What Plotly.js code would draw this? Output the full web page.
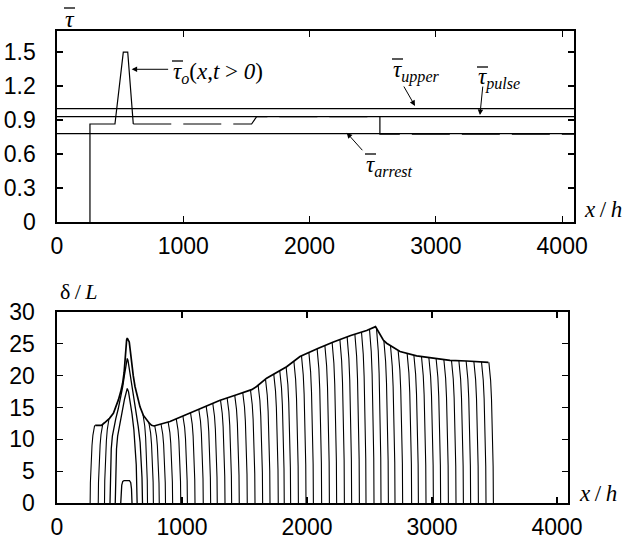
<!DOCTYPE html>
<html>
<head>
<meta charset="utf-8">
<script src="https://cdn.plot.ly/plotly-3.0.1.min.js"></script>
<style>html,body{margin:0;padding:0;background:#fff;}#chart{width:623px;height:543px;}</style>
</head>
<body>
<div id="chart"></div>
<script>
// ---------- top panel: shear stress ----------
const xTicks = [0, 1000, 2000, 3000, 4000];
const tauTicks = [0, 0.3, 0.6, 0.9, 1.2, 1.5];
const deltaTicks = [0, 5, 10, 15, 20, 25, 30];

const tauUpperX = [0, 4094];
const tauUpperY = [1.0, 1.0];
const tauPulseX = [0, 4094];
const tauPulseY = [0.93, 0.93];
const tauArrestX = [0, 4094];
const tauArrestY = [0.78, 0.78];

// tau_o(x, t>0): solid part (nucleation pulse) and dashed part
const tauOX = [261, 261, 459, 525, 560, 604];
const tauOY = [0, 0.865, 0.865, 1.5, 1.5, 0.865];
const tauODashX = [604, 1541, 1581, 2557, 2557, 4094];
const tauODashY = [0.865, 0.865, 0.93, 0.93, 0.775, 0.775];

// ---------- bottom panel: slip profiles ----------
// envelope (final slip profile)
const envX = [305,355,380,420,451,475,491,510,525,537,544,551,557,562,568,578,587,597,610,624,640,664,690,717,740,757,776,904,1000,1150,1300,1437,1557,1597,1677,1837,1944,2091,2211,2350,2477,2548,2560,2584,2610,2637,2690,2744,2877,3011,3144,3277,3451];
const envY = [12.2,12.2,12.6,13.3,14.1,15.2,16.2,17.5,18.8,20.5,22.5,24.3,25.6,25.9,25.7,25.3,23.8,21.9,20.0,18.3,16.8,15.1,13.8,13.0,12.5,12.2,12.1,12.8,13.6,14.9,16.1,17.0,17.8,18.3,19.6,21.4,23.0,24.3,25.3,26.3,27.1,27.7,27.3,26.4,25.6,25.1,24.4,23.8,23.1,22.7,22.4,22.3,22.1];

// early profiles around the pulse
const p1X = [510,513,518,526,536,580,590,596,600];
const p1Y = [0,1.8,2.8,3.4,3.5,3.5,3.2,2.2,0];
const p2X = [466,470,476,485,500,520,540,552,562,572,585,600,615,626,634,641];
const p2Y = [0,5,8.5,10.5,12.3,14.2,16.3,17.5,18.0,17.5,16.0,14.0,11.5,9,6,0];
const p3X = [424,428,434,443,455,470,490,510,525,538,548,556,562,568,576,586,600,615,632,650,665,675,680,684];
const p3Y = [0,5,8.5,10.5,12,13.2,14.8,16.6,18.2,19.9,21.4,22.4,22.7,22.4,21.4,19.9,17.8,15.8,14,12,9.5,6.5,4,0];

// crack-tip positions of successive profiles
const leftTips = [265, 330, 380];
const rightTips = [724,771,818,868,925,990,1043,1104,1170,1229,1282,1344,1397,1458,1522,1584,1645,1704,1770,1818,1869,1931,1992,2051,2117,2179,2237,2299,2357,2419,2472,2536,2592,2651,2704,2765,2837,2891,2952,3011,3069,3131,3192,3251,3309,3371,3432,3491];
// shape of a profile near its tip (distance from tip, fraction of opening)
const tipDx = [36, 29, 22, 15, 9, 5, 2, 0];
const tipFrac = [1, 0.95, 0.87, 0.74, 0.58, 0.42, 0.26, 0];

function envAt(x) {
  if (x <= envX[0]) return envY[0];
  for (let i = 1; i < envX.length; i++) {
    if (x <= envX[i]) {
      const t = (x - envX[i-1]) / (envX[i] - envX[i-1]);
      return envY[i-1] + t * (envY[i] - envY[i-1]);
    }
  }
  return envY[envY.length - 1];
}
const tipsX = [], tipsY = [];
rightTips.forEach(xt => {
  const h = envAt(xt - tipDx[0]);
  tipDx.forEach((d, k) => { tipsX.push(xt - d); tipsY.push(h * tipFrac[k]); });
  tipsX.push(null); tipsY.push(null);
});
leftTips.forEach(xt => {
  const h = envAt(xt + tipDx[0]);
  tipDx.forEach((d, k) => { tipsX.push(xt + d); tipsY.push(h * tipFrac[k]); });
  tipsX.push(null); tipsY.push(null);
});

const black = '#000';
const thin = {color: black, width: 1.2};
const traces = [
  {x: tauUpperX, y: tauUpperY, xaxis: 'x', yaxis: 'y', mode: 'lines', line: thin},
  {x: tauPulseX, y: tauPulseY, xaxis: 'x', yaxis: 'y', mode: 'lines', line: thin},
  {x: tauArrestX, y: tauArrestY, xaxis: 'x', yaxis: 'y', mode: 'lines', line: thin},
  {x: tauOX, y: tauOY, xaxis: 'x', yaxis: 'y', mode: 'lines', line: thin},
  {x: tauODashX, y: tauODashY, xaxis: 'x', yaxis: 'y', mode: 'lines', line: {color: black, width: 1.2, dash: '38px,12px'}},
  {x: envX, y: envY, xaxis: 'x2', yaxis: 'y2', mode: 'lines', line: {color: black, width: 1.7}},
  {x: tipsX, y: tipsY, xaxis: 'x2', yaxis: 'y2', mode: 'lines', connectgaps: false, line: {color: black, width: 1.1}},
  {x: p1X, y: p1Y, xaxis: 'x2', yaxis: 'y2', mode: 'lines', line: {color: black, width: 1.3}},
  {x: p2X, y: p2Y, xaxis: 'x2', yaxis: 'y2', mode: 'lines', line: {color: black, width: 1.3}},
  {x: p3X, y: p3Y, xaxis: 'x2', yaxis: 'y2', mode: 'lines', line: {color: black, width: 1.3}}
];

const tickFont = {family: 'Liberation Sans, Arial, Helvetica, sans-serif', size: 23, color: black};
function ax(extra) {
  return Object.assign({
    showline: true, linecolor: black, linewidth: 1.6, mirror: 'ticks',
    ticks: 'inside', ticklen: 6, tickwidth: 1.2, tickcolor: black,
    showgrid: false, zeroline: false, tickfont: tickFont, fixedrange: true
  }, extra);
}
const serif = 'Liberation Serif, Times New Roman, serif';
const W = 517, H = 472, L = 57, T = 31;
const px = v => (v - L) / W;
const py = v => (T + H - v) / H;
function label(text, x, y, size, xanchor) {
  return {text: text, xref: 'paper', yref: 'paper', x: px(x), y: py(y), showarrow: false,
          xanchor: xanchor || 'left', yanchor: 'middle', font: {family: serif, size: size || 22, color: black}};
}
function arrow(x, y, axp, ayp) {
  return {text: '', xref: 'x', yref: 'y', x: x, y: y, ax: axp, ay: ayp, showarrow: true,
          arrowhead: 2, arrowsize: 1.1, arrowwidth: 1, arrowcolor: black, standoff: 0};
}
// overbar drawn above each tau symbol (pixel positions of the bar)
function bar(x0, x1, y) {
  return {type: 'line', xref: 'paper', yref: 'paper', x0: px(x0), x1: px(x1), y0: py(y), y1: py(y),
          line: {color: black, width: 1.3}};
}

const layout = {
  width: 623, height: 543,
  margin: {l: L, r: 623 - L - W, t: T, b: 543 - T - H},
  paper_bgcolor: '#fff', plot_bgcolor: '#fff',
  showlegend: false,
  xaxis: ax({domain: [0, 1], range: [0, 4094], tickvals: xTicks, anchor: 'y', ticklabelstandoff: 3}),
  yaxis: ax({domain: [py(222), 1], range: [0, 1.686], tickvals: tauTicks, ticktext: tauTicks.map(String), anchor: 'x', ticklabelstandoff: 15}),
  xaxis2: ax({domain: [0, 511 / W], range: [0, 4088], tickvals: xTicks, anchor: 'y2', ticklabelstandoff: 3}),
  yaxis2: ax({domain: [0, py(312)], range: [0, 30], tickvals: deltaTicks, anchor: 'x2', ticklabelstandoff: 16}),
  annotations: [
    label('<i>τ</i>', 63, 19, 24),
    label('<i>x</i>\u2009/\u2009<i>h</i>', 582, 209, 23),
    label('δ\u2009/\u2009<i>L</i>', 58, 291, 22),
    label('<i>x</i>\u2009/\u2009<i>h</i>', 577, 493, 23),
    label('<i>τ<sub>o</sub></i>(<i>x</i>,<i>t</i> > <i>0</i>)', 171, 73, 23),
    label('<i>τ<sub>upper</sub></i>', 391, 71, 23),
    label('<i>τ<sub>pulse</sub></i>', 476, 79, 23),
    label('<i>τ<sub>arrest</sub></i>', 364, 166, 23),
    arrow(591, 1.348, 38, 0),
    arrow(2835, 1.024, -12, -21),
    arrow(3349, 0.944, 3, -30),
    arrow(2294, 0.788, 17, 19)
  ],
  shapes: [
    bar(64, 75, 8),
    bar(172, 183, 61),
    bar(392, 403, 59),
    bar(477, 488, 67),
    bar(365, 376, 154)
  ]
};

Plotly.newPlot('chart', traces, layout, {displayModeBar: false, staticPlot: true});
</script>
</body>
</html>
